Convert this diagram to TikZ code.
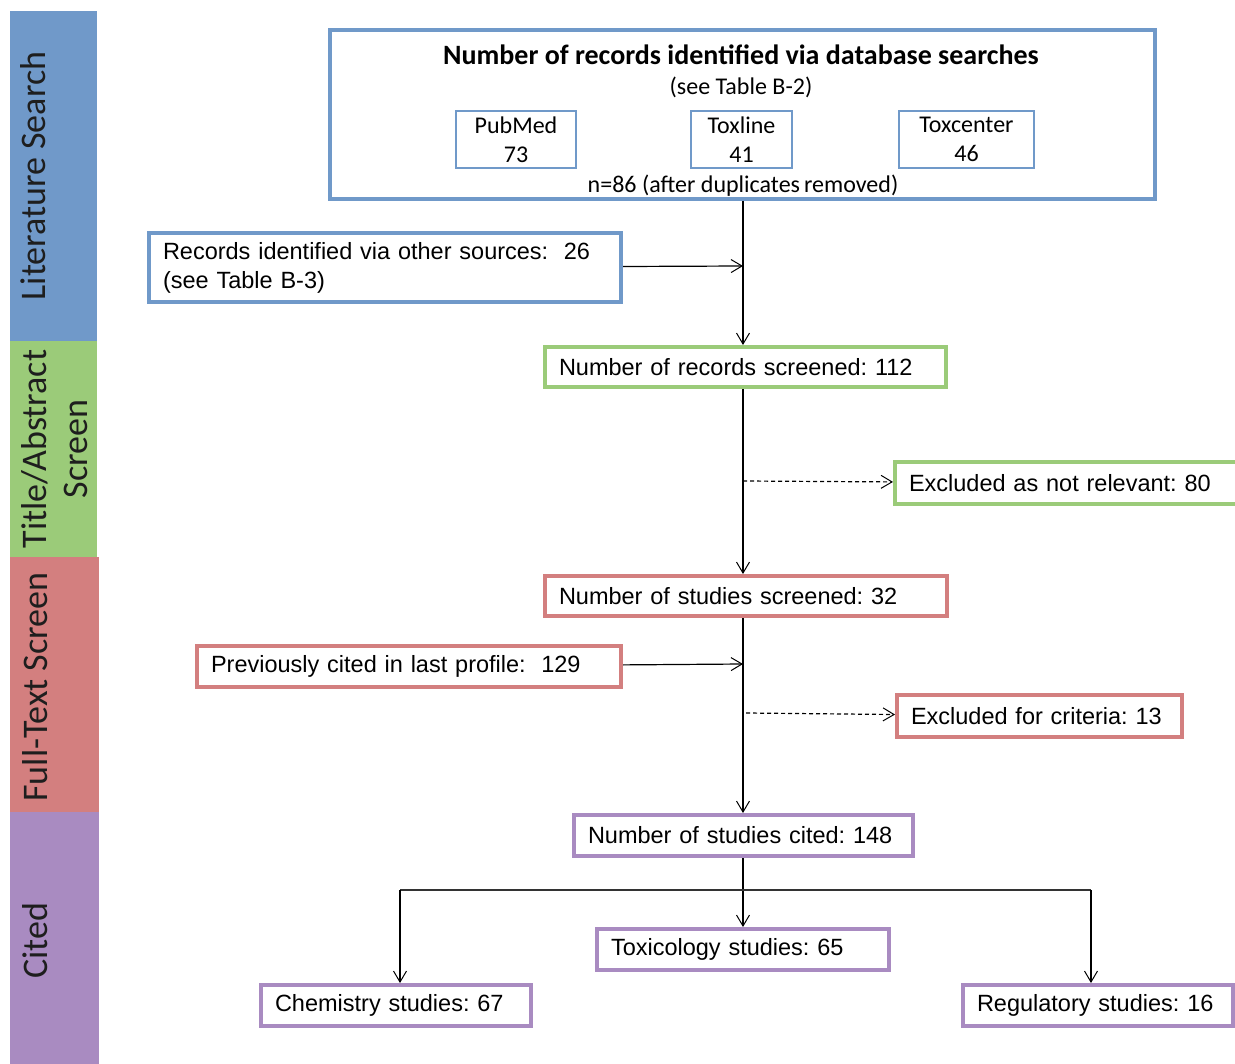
\documentclass[tikz,border=0pt]{standalone}
\usepackage{fontspec}
\setmainfont{Liberation Sans}
\newfontfamily\calfont{Carlito}
\usetikzlibrary{arrows.meta,positioning}
\definecolor{litcol}{HTML}{7099C9}
\definecolor{abscol}{HTML}{9BCB79}
\definecolor{fullcol}{HTML}{D37F7F}
\definecolor{citecol}{HTML}{A98BC1}
\definecolor{labcol}{HTML}{1E1E1E}
\frenchspacing
\tikzset{
  flowbox/.style={draw, line width=4pt, anchor=north west, align=left, inner xsep=14pt, inner ysep=0pt, font=\fontsize{23.5}{29}\selectfont},
  dbbox/.style={draw=litcol, line width=1.5pt, minimum height=57pt, align=center, inner sep=0pt, font=\calfont\fontsize{24}{29}\selectfont},
  dbtext/.style={inner sep=0pt, font=\calfont\fontsize{24}{29}\selectfont},
  stagelabel/.style={rotate=90, align=center, inner sep=0pt, text=labcol, font=\calfont\fontsize{36}{41}\selectfont},
  flowarrow/.style={-{Straight Barb[length=11pt,width=13pt,line width=1pt]}, line width=1.2pt},
  flowline/.style={line width=1.6pt, black!80}
}
\newcommand{\stagebox}[5]{node[flowbox, draw=#1, text width=#2, minimum height=#3](#4) {#5}}

\begin{document}
\begin{tikzpicture}[x=1pt,y=-1pt]
\useasboundingbox (0,0) rectangle (1235,1064);
\fill[litcol] (10,11) rectangle (97,341);
\fill[abscol] (10,341) rectangle (97,557);
\fill[fullcol] (10,557) rectangle (99,812);
\fill[citecol] (10,812) rectangle (99,1064);
\draw (33,176) node[stagelabel](litlabel) {Literature Search};
\draw (55,449) node[stagelabel](abslabel) {Title/Abstract\\Screen};
\draw (35,687) node[stagelabel](fulllabel) {Full-Text Screen};
\draw (35,941) node[stagelabel](citelabel) {Cited};

\draw (742.5,114.5) node[draw=litcol, line width=4pt, minimum width=825pt, minimum height=169pt](dbsearch) {};
\draw (741,55) node[dbtext, font=\calfont\bfseries\fontsize{28}{32}\selectfont](dbtitle) {Number of records identified via database searches};
\draw (741,87) node[dbtext](dbnote) {(see Table B-2)};
\draw (516,139.5) node[dbbox, minimum width=120pt](pubmed) {PubMed\\73};
\draw (741.5,139.5) node[dbbox, minimum width=101pt](toxline) {Toxline\\41};
\draw (966.5,139.5) node[dbbox, minimum width=135pt](toxcenter) {Toxcenter\\46};
\draw (743,186) node[dbtext](dbcount) {n=86 (after duplicates\,removed)};

\draw (147,231) \stagebox{litcol}{444pt}{69pt}{other}{Records identified via other sources:\ \ 26\\(see Table B-3)};
\draw (543,345) \stagebox{abscol}{373pt}{40pt}{scr}{Number of records screened: 112};
\draw (893,460) \stagebox{abscol}{317pt}{42pt}{excla}{Excluded as not relevant: 80};
\draw (543,574) \stagebox{fullcol}{374pt}{40pt}{stud}{Number of studies screened: 32};
\draw (195,644) \stagebox{fullcol}{396pt}{41pt}{prev}{Previously cited in last profile:\ \ 129};
\draw (895,693) \stagebox{fullcol}{257pt}{42pt}{exclb}{Excluded for criteria: 13};
\draw (572,813) \stagebox{citecol}{311pt}{41pt}{cited}{Number of studies cited: 148};
\draw (595,927) \stagebox{citecol}{264pt}{41pt}{tox}{Toxicology studies: 65};
\draw (259,983) \stagebox{citecol}{242pt}{41pt}{chem}{Chemistry studies: 67};
\draw (961,983) \stagebox{citecol}{242pt}{41pt}{reg}{Regulatory studies: 16};

\coordinate (ja) at (743,266);
\coordinate (jb) at (743,664);
\coordinate (da) at (743,481);
\coordinate (db) at (746,713);
\coordinate (ba) at (400,890);
\coordinate (bb) at (1091,890);
\draw[flowarrow] (ja |- dbsearch.south) -- (ja |- scr.north);
\draw[flowarrow] (other) -- (ja);
\draw[flowarrow] (ja |- scr.south) -- (ja |- stud.north);
\draw[flowarrow, dash pattern=on 4pt off 3pt] (da) -- (excla);
\draw[flowarrow] (ja |- stud.south) -- (ja |- cited.north);
\draw[flowarrow] (prev) -- (jb);
\draw[flowarrow, dash pattern=on 4pt off 3pt] (db) -- (exclb);
\draw[flowarrow] (ja |- cited.south) -- (ja |- tox.north);
\draw[flowline] (ba) -- (bb);
\draw[flowarrow] (ba) -- (ba |- chem.north);
\draw[flowarrow] (bb) -- (bb |- reg.north);
\end{tikzpicture}
\end{document}
